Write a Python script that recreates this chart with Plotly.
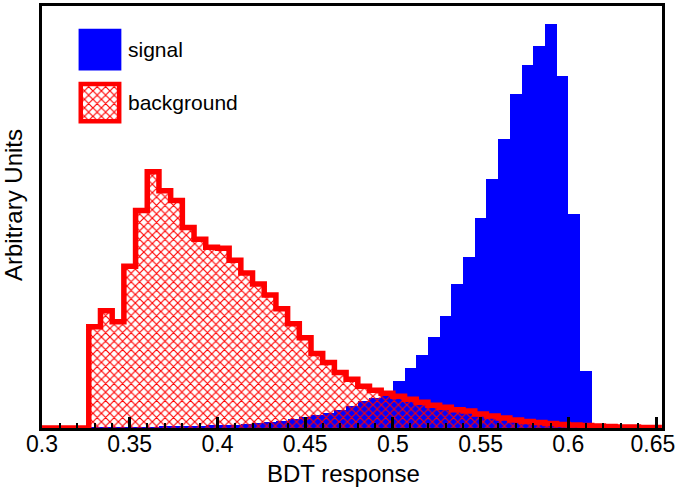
import numpy as np
import plotly.graph_objects as go

# histogram binning: 1/150 wide bins starting at 0.3
BIN_WIDTH = 1 / 150
X_START = 0.3

# signal (blue) and background (red hatched), arbitrary units, one value per bin
signal = [
    0, 0, 0, 0, 0.3, 0.4, 0.5, 0.6, 0.8, 1.0, 1.2, 1.5, 1.8, 2.2, 2.6, 3.0,
    3.5, 4.2, 5.0, 6.0, 7.5, 9, 11, 13, 15, 18, 22, 27, 30, 33, 47, 60, 74,
    92, 113, 145, 172, 211, 251, 291, 336, 366, 385, 407, 355, 216, 57,
    0, 0, 0, 0, 0, 0,
]
background = [
    0, 0, 0, 0, 102, 118, 107, 163, 219, 258, 239, 229, 202, 190, 182, 181,
    169, 156, 145, 134, 120, 105, 91, 75, 66, 56, 49, 42, 38, 35, 32, 29, 26,
    23, 21, 18.5, 17, 14, 12, 10, 8, 6.5, 5.5, 4.5, 3.5, 3, 2.5, 2, 1.5, 1,
    1, 0.5, 0.5,
]
tick_values = [0.3, 0.35, 0.4, 0.45, 0.5, 0.55, 0.6, 0.65]
tick_labels = ["0.3", "0.35", "0.4", "0.45", "0.5", "0.55", "0.6",
               "0.65\u00a0"]

FONT = "Liberation Sans, Arial, sans-serif"
BLUE = "#0000ff"
RED = "#ff0000"

n_bins = len(signal)
edges = X_START + BIN_WIDTH * np.arange(n_bins + 1)
centers = 0.5 * (edges[:-1] + edges[1:])
hatch = dict(shape="x", fgcolor=RED, bgcolor="rgba(0,0,0,0)",
             size=6, solidity=0.35, fillmode="replace")

fig = go.Figure()
fig.add_trace(go.Bar(
    x=centers, y=signal, width=BIN_WIDTH,
    marker=dict(color=BLUE, line=dict(width=0)), name="signal",
))
fig.add_trace(go.Bar(
    x=centers, y=background, width=BIN_WIDTH,
    marker=dict(color="rgba(255,0,0,0)", line=dict(width=0), pattern=hatch),
    name="background",
))
# thick outline of the background histogram
fig.add_trace(go.Scatter(
    x=edges, y=list(background) + [background[-1]],
    mode="lines", line=dict(color=RED, width=5.5, shape="hv"),
    hoverinfo="skip",
))

# hand-made legend (big boxes like the original)
fig.add_shape(type="rect", xref="paper", yref="paper",
              x0=0.059, x1=0.128, y0=0.847, y1=0.946,
              fillcolor=BLUE, line=dict(width=0))
fig.add_trace(go.Scatter(
    x=[0.064, 0.123, 0.123, 0.064, 0.064],
    y=[0.729, 0.729, 0.813, 0.813, 0.729],
    xaxis="x2", yaxis="y2", mode="lines", fill="toself",
    fillcolor="rgba(0,0,0,0)", fillpattern=hatch,
    line=dict(width=0), hoverinfo="skip",
))
fig.add_shape(type="rect", xref="paper", yref="paper",
              x0=0.0625, x1=0.1245, y0=0.727, y1=0.815,
              line=dict(color=RED, width=4.5))
for label, y in (("signal", 0.896), ("background", 0.771)):
    fig.add_annotation(text=label, xref="paper", yref="paper", x=0.136, y=y,
                       xanchor="left", yanchor="middle", showarrow=False,
                       font=dict(size=21, color="black"))

fig.add_annotation(text="Arbitrary Units", xref="paper", yref="paper",
                   x=-0.047, y=0.528, textangle=-90, showarrow=False,
                   xanchor="center", yanchor="middle",
                   font=dict(size=24, color="black"))
fig.add_annotation(text="BDT response", xref="paper", yref="paper",
                   x=0.486, y=-0.109, showarrow=False,
                   xanchor="center", yanchor="middle",
                   font=dict(size=24, color="black"))

fig.update_layout(
    width=685, height=492,
    margin=dict(l=42, r=17, t=3, b=64),
    paper_bgcolor="white", plot_bgcolor="white",
    font=dict(family=FONT, color="black"),
    barmode="overlay", bargap=0, showlegend=False,
    xaxis=dict(
        range=[0.3, 0.6534], tickvals=tick_values, ticktext=tick_labels,
        ticks="inside", ticklen=11, tickwidth=2.5, tickcolor="black",
        minor=dict(dtick=0.01, tick0=0.3, ticks="inside", ticklen=5,
                   tickwidth=2, tickcolor="black"),
        showline=True, linewidth=3, linecolor="black", mirror=True,
        showgrid=False, zeroline=False, tickfont=dict(size=23),
        ticklabeloverflow="allow", ticklabelstandoff=-7,
    ),
    yaxis=dict(
        range=[0, 425], showticklabels=False, ticks="",
        showline=True, linewidth=3, linecolor="black", mirror=True,
        showgrid=False, zeroline=False,
    ),
    xaxis2=dict(range=[0, 1], overlaying="x", visible=False),
    yaxis2=dict(range=[0, 1], overlaying="y", visible=False),
)

# the page's default 8px body margin would shift the whole chart
fig.write_html("out.html", config={"displayModeBar": False},
               post_script="document.body.style.margin='0';")
